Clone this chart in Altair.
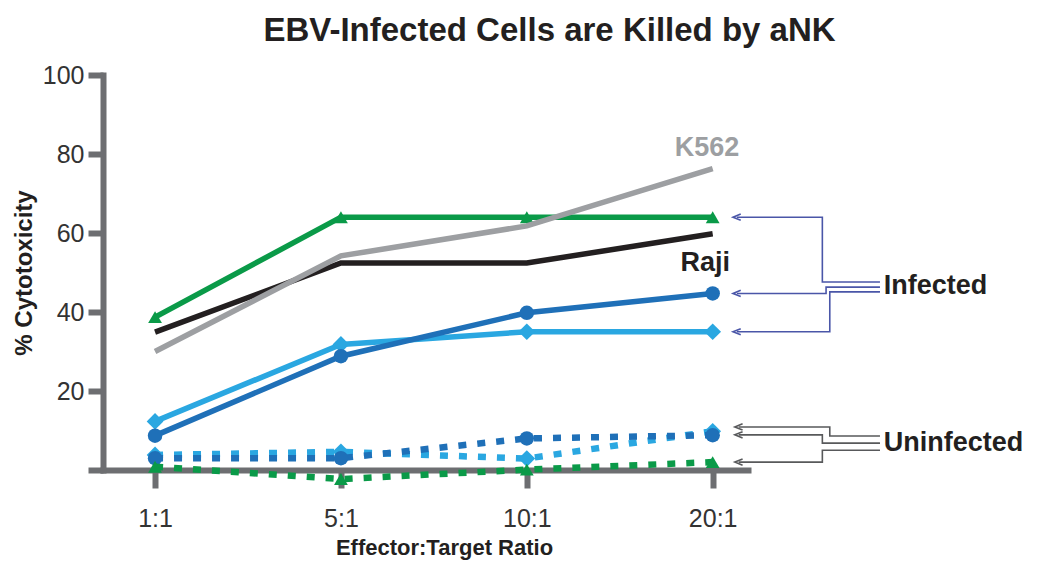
import altair as alt
import pandas as pd

# ---------------- data ----------------
ratios = ["1:1", "5:1", "10:1", "20:1"]
ratio_idx = [0, 1, 2, 3]

# infected (solid)
k562 = [30.0, 54.2, 61.8, 76.3]
green_inf = [38.7, 64.0, 64.0, 64.0]
raji = [34.9, 52.4, 52.4, 59.8]
blue_inf = [8.7, 28.8, 39.8, 44.7]
lblue_inf = [12.3, 31.8, 35.0, 35.0]
# uninfected (dashed)
blue_un = [3.0, 3.0, 8.0, 8.8]
lblue_un = [3.8, 4.6, 2.9, 9.8]
green_un = [0.8, -2.3, 0.1, 2.0]

title_text = "EBV-Infected Cells are Killed by aNK"

# annotation bracket paths (data units: x = ratio index, y = %)
inf_paths = [
    [(3.13, 64.0), (3.59, 64.0), (3.59, 47.6), (3.90, 47.6)],
    [(3.13, 44.7), (3.61, 44.7), (3.61, 46.3), (3.90, 46.3)],
    [(3.13, 35.0), (3.63, 35.0), (3.63, 45.1), (3.90, 45.1)],
]
un_paths = [
    [(3.14, 10.9), (3.63, 10.9), (3.63, 8.6), (3.90, 8.6)],
    [(3.14, 8.9), (3.59, 8.9), (3.59, 6.8), (3.90, 6.8)],
    [(3.14, 2.0), (3.59, 2.0), (3.59, 5.0), (3.90, 5.0)],
]

FONT = "Liberation Sans"
AXIS_C = "#6d6e71"

x_scale = alt.Scale(domain=[-0.28, 3.19], nice=False, zero=False)
y_scale = alt.Scale(domain=[0, 100], nice=False, zero=False)

label_expr = "[" + ",".join("'%s'" % r for r in ratios) + "][datum.value]"

x_axis = alt.Axis(
    values=ratio_idx, labelExpr=label_expr, title="Effector:Target Ratio",
    grid=False, domainColor=AXIS_C, domainWidth=6, tickColor=AXIS_C,
    tickWidth=6, tickSize=18, labelFont=FONT, labelFontSize=25,
    labelColor="#333333", labelPadding=18, titleFont=FONT, titleFontSize=22,
    titleFontWeight="bold", titleColor="#231f20", titlePadding=6, titleX=341,
)
y_axis = alt.Axis(
    values=[0, 20, 40, 60, 80, 100], labelExpr="datum.value == 0 ? '' : datum.label",
    title="% Cytotoxicity", grid=False, domainColor=AXIS_C, domainWidth=6,
    tickColor=AXIS_C, tickWidth=6, tickSize=15, labelFont=FONT, labelFontSize=25,
    labelColor="#333333", labelPadding=4, titleFont=FONT, titleFontSize=24,
    titleFontWeight="bold", titleColor="#231f20", titlePadding=6,
)


def series_df(vals):
    return pd.DataFrame({"x": ratio_idx, "y": vals})


layers = []
# axes carrier
base_df = series_df(k562)
layers.append(
    alt.Chart(base_df).mark_line(opacity=0).encode(
        x=alt.X("x:Q", scale=x_scale, axis=x_axis),
        y=alt.Y("y:Q", scale=y_scale, axis=y_axis),
    )
)


def add_series(vals, color, dashed, shape=None, msize=150):
    df = series_df(vals)
    kw = dict(color=color, strokeWidth=5.5 if not dashed else 6.5)
    if dashed:
        kw["strokeDash"] = [8, 11]
    layers.append(alt.Chart(df).mark_line(**kw).encode(
        x=alt.X("x:Q", scale=x_scale), y=alt.Y("y:Q", scale=y_scale)))
    if shape is not None:
        layers.append(alt.Chart(df).mark_point(
            shape=shape, filled=True, color=color, size=msize, opacity=1).encode(
            x=alt.X("x:Q", scale=x_scale), y=alt.Y("y:Q", scale=y_scale)))


add_series(raji, "#231f20", False)
add_series(green_inf, "#0a9a48", False, "triangle-up", 190)
add_series(k562, "#9d9fa2", False)
add_series(lblue_inf, "#2aa7e1", False, "diamond", 280)
add_series(blue_inf, "#1f70b8", False, "circle", 210)
add_series(lblue_un, "#2aa7e1", True, "diamond", 280)
add_series(blue_un, "#1f70b8", True, "circle", 210)
add_series(green_un, "#0a9a48", True, "triangle-up", 190)


def add_paths(paths, color):
    rows = []
    tips = []
    for pi, p in enumerate(paths):
        for oi, (px, py) in enumerate(p):
            rows.append({"pid": pi, "o": oi, "x": px, "y": py})
        tips.append({"x": p[0][0], "y": p[0][1]})
    df = pd.DataFrame(rows)
    layers.append(alt.Chart(df).mark_line(color=color, strokeWidth=1.6).encode(
        x=alt.X("x:Q", scale=x_scale), y=alt.Y("y:Q", scale=y_scale),
        detail="pid:N", order="o:Q"))
    layers.append(alt.Chart(pd.DataFrame(tips)).mark_point(
        shape="M 1 -0.8 L -1 0 L 1 0.8", filled=False, color=color,
        strokeWidth=1.6, size=60, opacity=1).encode(
        x=alt.X("x:Q", scale=x_scale), y=alt.Y("y:Q", scale=y_scale)))


add_paths(inf_paths, "#4a56a8")
add_paths(un_paths, "#58595b")

labels = pd.DataFrame([
    {"x": 2.97, "y": 81.5, "t": "K562", "c": "gray"},
    {"x": 2.96, "y": 52.4, "t": "Raji", "c": "black"},
])
layers.append(alt.Chart(labels[labels.c == "gray"]).mark_text(
    font=FONT, fontSize=27, fontWeight="bold", color="#9d9fa2").encode(
    x=alt.X("x:Q", scale=x_scale), y=alt.Y("y:Q", scale=y_scale), text="t:N"))
layers.append(alt.Chart(labels[labels.c == "black"]).mark_text(
    font=FONT, fontSize=27, fontWeight="bold", color="#231f20").encode(
    x=alt.X("x:Q", scale=x_scale), y=alt.Y("y:Q", scale=y_scale), text="t:N"))

grp = pd.DataFrame([
    {"x": 3.92, "y": 46.5, "t": "Infected"},
    {"x": 3.92, "y": 6.8, "t": "Uninfected"},
])
layers.append(alt.Chart(grp).mark_text(
    font=FONT, fontSize=27, fontWeight="bold", color="#231f20", align="left").encode(
    x=alt.X("x:Q", scale=x_scale), y=alt.Y("y:Q", scale=y_scale), text="t:N"))

chart = alt.layer(*layers).properties(
    width=645, height=395,
    title=alt.TitleParams(title_text, font=FONT, fontSize=33, fontWeight="bold",
                          color="#231f20", anchor="middle", dx=124, offset=15),
    autosize=alt.AutoSizeParams(type="none"),
    padding={"left": 95, "top": 67, "right": 281, "bottom": 94},
).configure_view(stroke=None).configure_axis(domainCap="square")

chart.save("out.html", embed_options={"renderer": "svg", "actions": False})
